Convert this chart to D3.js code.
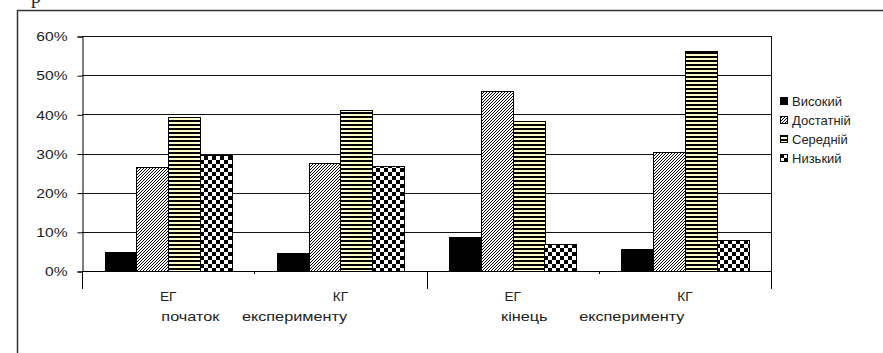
<!DOCTYPE html>
<html>
<head>
<meta charset="utf-8">
<script src="https://cdn.jsdelivr.net/npm/d3@7"></script>
<style>
  html, body { margin: 0; padding: 0; background: #fff; }
  svg { display: block; }
  text { font-family: "Liberation Sans", Arial, sans-serif; fill: #222; }
</style>
</head>
<body>
<svg id="chart" width="883" height="353"></svg>
<script>
// Groups on the category axis (inner level) and their stage (outer level)
const categories = ["ЕГ1", "КГ1", "ЕГ2", "КГ2"];
const categoryLabels = ["ЕГ", "КГ", "ЕГ", "КГ"];
const stages = ["початок     експерименту", "кінець       експерименту"];

// Levels shown in each group
const series = ["Високий", "Достатній", "Середній", "Низький"];

// Share of students per level, one array per level (fractions)
const vysokyi   = [0.049, 0.047, 0.086, 0.055];
const dostatnii = [0.266, 0.275, 0.460, 0.303];
const serednii  = [0.392, 0.411, 0.384, 0.562];
const nyzkyi    = [0.296, 0.269, 0.069, 0.079];

const yTicks = [0, 0.1, 0.2, 0.3, 0.4, 0.5, 0.6];

const seriesValues = [vysokyi, dostatnii, serednii, nyzkyi];
const fills = ["#000", "url(#hatch)", "url(#stripes)", "url(#checker)"];

// Axis lettering is drawn a little wider than normal
const stageStretch = 1.25;
const labelStretch = 1.05;
const tickStretch = 1.2;

const svg = d3.select("#chart");

// Fill patterns for the bars
const defs = svg.append("defs");
const hatch = defs.append("pattern").attr("id", "hatch")
  .attr("patternUnits", "userSpaceOnUse").attr("width", 3).attr("height", 3);
hatch.append("rect").attr("width", 3).attr("height", 3).attr("fill", "#fff");
hatch.append("path").attr("d", "M-1,1 L1,-1 M0,3 L3,0 M2,4 L4,2")
  .attr("stroke", "#000").attr("stroke-width", 1);

const stripes = defs.append("pattern").attr("id", "stripes")
  .attr("patternUnits", "userSpaceOnUse").attr("width", 4).attr("height", 4);
stripes.append("rect").attr("width", 4).attr("height", 4).attr("fill", "#ffffc8");
stripes.append("rect").attr("width", 4).attr("height", 2).attr("fill", "#000");

const checker = defs.append("pattern").attr("id", "checker")
  .attr("patternUnits", "userSpaceOnUse").attr("width", 8).attr("height", 8);
checker.append("rect").attr("width", 8).attr("height", 8).attr("fill", "#fff");
checker.append("rect").attr("width", 4).attr("height", 4).attr("fill", "#000");
checker.append("rect").attr("x", 4).attr("y", 4).attr("width", 4).attr("height", 4).attr("fill", "#000");

// Caption line from the text above, partly cut off
svg.append("text").attr("x", 31).attr("y", 3)
  .style("font-family", "'Liberation Serif', 'Times New Roman', serif")
  .style("font-size", "20px").text("р");

// Chart frame
svg.append("path").attr("d", "M17.5,353 L17.5,10.5 L883,10.5")
  .attr("fill", "none").attr("stroke", "#333").attr("stroke-width", 1.5);

const plotLeft = 82, plotRight = 771, plotTop = 36, plotBottom = 271;

const x0 = d3.scaleBand().domain(categories).range([plotLeft, plotRight]).padding(0);
const x1 = d3.scaleBand().domain(series).range([0, x0.bandwidth()])
  .paddingInner(0).paddingOuter(0.71);
const y = d3.scaleLinear().domain([0, 0.6]).range([plotBottom, plotTop]);

// Gridlines
svg.append("g").selectAll("line").data(yTicks.slice(1)).join("line")
  .attr("x1", plotLeft).attr("x2", plotRight)
  .attr("y1", d => Math.round(y(d)) + 0.5).attr("y2", d => Math.round(y(d)) + 0.5)
  .attr("stroke", "#111").attr("stroke-width", 1);

// Plot area right edge
svg.append("line").attr("x1", plotRight + 0.5).attr("x2", plotRight + 0.5)
  .attr("y1", plotTop).attr("y2", plotBottom).attr("stroke", "#111");

// Bars
const groups = svg.append("g").selectAll("g").data(series).join("g")
  .attr("fill", (d, i) => fills[i]);
groups.selectAll("rect")
  .data((s, si) => categories.map((c, ci) => ({ c, s, v: seriesValues[si][ci] })))
  .join("rect")
  .attr("x", d => Math.round(x0(d.c) + x1(d.s)) + 0.5)
  .attr("width", Math.round(x1.bandwidth()))
  .attr("y", d => Math.round(y(d.v)) + 0.5)
  .attr("height", d => Math.round(y(0)) - Math.round(y(d.v)))
  .attr("stroke", "#000").attr("stroke-width", 1);

// Value axis
const yAxis = d3.axisLeft(y).tickValues(yTicks)
  .tickFormat(d3.format(".0%")).tickSize(5).tickPadding(10);
const gy = svg.append("g").attr("transform", `translate(${plotLeft + 0.5},0.5)`).call(yAxis);
gy.select(".domain").attr("stroke", "#000");
gy.selectAll(".tick line").attr("stroke", "#000");
gy.selectAll(".tick text").style("font-size", "13px").attr("fill", "#222")
  .attr("transform", `scale(${tickStretch},1)`).attr("x", -15 / tickStretch);

// Category axis line
svg.append("line").attr("x1", plotLeft).attr("x2", plotRight + 1)
  .attr("y1", plotBottom + 0.5).attr("y2", plotBottom + 0.5).attr("stroke", "#000");

// Short ticks between groups of the same stage
const stageCenters = [0, 1].map(k => (x0(categories[2 * k]) + x0(categories[2 * k + 1]) + x0.bandwidth()) / 2);
svg.append("g").selectAll("line").data(stageCenters).join("line")
  .attr("x1", d => Math.round(d) + 0.5).attr("x2", d => Math.round(d) + 0.5)
  .attr("y1", plotBottom).attr("y2", plotBottom + 3).attr("stroke", "#000");

// Long ticks separating the stages
const stageEdges = [plotLeft, x0(categories[2]), plotRight];
svg.append("g").selectAll("line").data(stageEdges).join("line")
  .attr("x1", d => Math.round(d) + 0.5).attr("x2", d => Math.round(d) + 0.5)
  .attr("y1", plotBottom).attr("y2", 289).attr("stroke", "#000");

// Inner level labels
svg.append("g").selectAll("text").data(categories).join("text")
  .attr("transform", d => `translate(${x0(d) + x0.bandwidth() / 2},301) scale(${labelStretch},1)`)
  .attr("text-anchor", "middle").style("font-size", "13px")
  .text((d, i) => categoryLabels[i]);

// Outer level labels
svg.append("g").selectAll("text").data(stages).join("text")
  .attr("transform", (d, i) => `translate(${stageCenters[i] - (i ? 6 : 0)},321) scale(${stageStretch},1)`)
  .attr("text-anchor", "middle").style("font-size", "13px")
  .style("white-space", "pre").attr("xml:space", "preserve")
  .text(d => d);

// Legend
const legend = svg.append("g").selectAll("g").data(series).join("g")
  .attr("transform", (d, i) => `translate(780,${97 + i * 19})`);
legend.append("rect").attr("x", 0.5).attr("y", 0.5).attr("width", 7).attr("height", 7)
  .attr("fill", (d, i) => fills[i]).attr("stroke", "#000");
legend.append("text").attr("x", 12).attr("y", 8.5).style("font-size", "13px").text(d => d);
</script>
</body>
</html>
